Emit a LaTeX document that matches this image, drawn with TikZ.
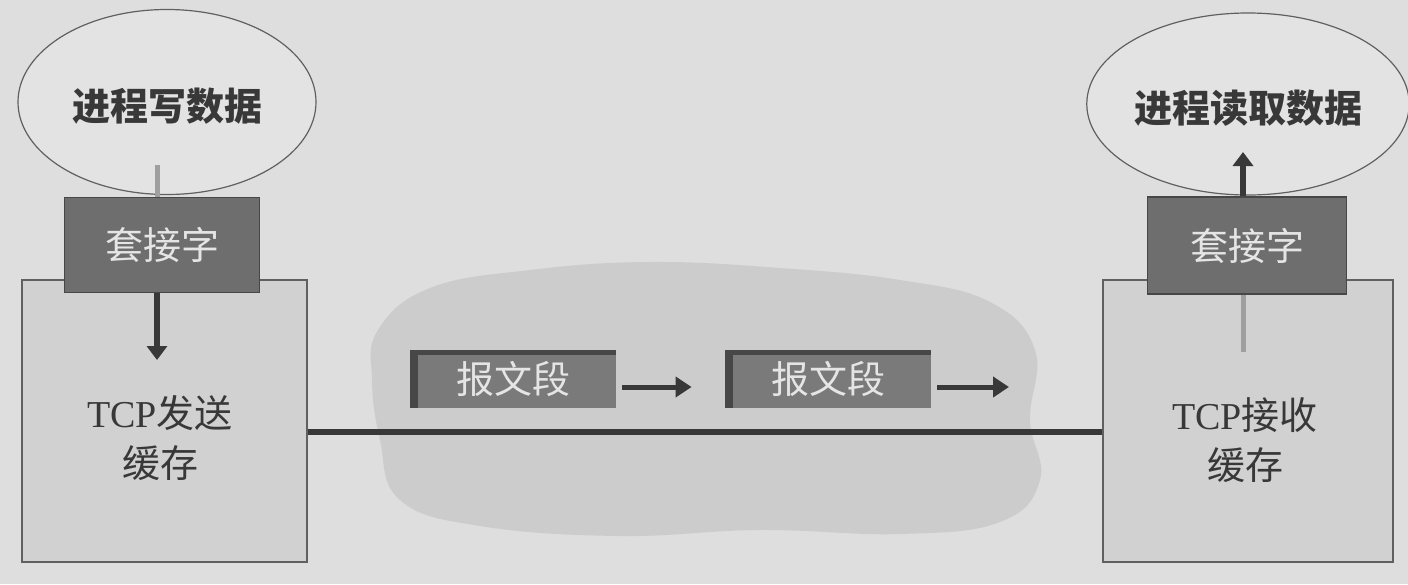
\documentclass[tikz,border=0pt]{standalone}
\usepackage{fontspec}
\setmainfont{Noto Sans CJK SC}
\newfontfamily\latinfont{Liberation Serif}
\usetikzlibrary{shapes.geometric,arrows.meta}

\definecolor{paper}{gray}{0.87}
\definecolor{cloudgray}{gray}{0.80}
\definecolor{bufgray}{gray}{0.82}
\definecolor{procgray}{gray}{0.89}
\definecolor{sockgray}{gray}{0.43}
\definecolor{seggray}{gray}{0.48}
\definecolor{segedge}{gray}{0.28}
\definecolor{inkgray}{gray}{0.22}
\definecolor{palegray}{gray}{0.90}

\tikzset{
  proc/.style={ellipse, draw=inkgray!80, line width=0.6pt, fill=procgray,
    text=inkgray, inner sep=0pt, text height=21pt, text depth=2.3pt,
    font=\fontsize{19}{22}\selectfont\bfseries},
  sockbox/.style={rectangle, draw=segedge, line width=0.8pt, fill=sockgray,
    text=palegray, minimum width=97.5pt, minimum height=47.5pt,
    font=\fontsize{19}{22}\selectfont},
  bufbox/.style={rectangle, draw=inkgray!80, line width=0.6pt, fill=bufgray,
    minimum width=142.5pt, minimum height=141pt},
  buftext/.style={align=center, text=inkgray, font=\fontsize{19}{25}\selectfont},
  segbox/.style={rectangle, fill=seggray, text=palegray, inner sep=0pt,
    minimum width=103pt, minimum height=29pt, font=\fontsize{19}{22}\selectfont,
    path picture={
      \fill[segedge] (path picture bounding box.north west)
        rectangle ([xshift=4pt]path picture bounding box.south west);
      \fill[segedge] (path picture bounding box.north west)
        rectangle ([yshift=-2.5pt]path picture bounding box.north east);
    }},
  bigarrow/.style={draw=inkgray, line width=3pt, -{Triangle[length=7pt,width=10pt]}},
  segarrow/.style={draw=inkgray, line width=2.5pt, -{Triangle[length=8pt,width=10pt]}},
  feedline/.style={draw=gray!75, line width=2.5pt},
  wireline/.style={draw=inkgray, line width=3pt},
}

\begin{document}
\begin{tikzpicture}[x=0.5pt, y=-0.5pt]
  % Background
  \fill[paper] (0,0) rectangle (1408,584);
  \useasboundingbox (0,0) rectangle (1408,584);

  % Network cloud
  \fill[cloudgray] plot[smooth cycle, tension=0.7] coordinates {
    (378,330) (430,288) (530,270) (650,262) (780,268) (900,280)
    (990,302) (1035,350) (1030,420) (1040,480) (1000,522) (900,534)
    (760,530) (620,536) (480,526) (400,500) (380,440) (372,380)};

  % Sender side
  \node[proc, minimum width=149pt, minimum height=92.5pt] (wr) at (167,102) {进程写数据};
  \node[bufbox] (sbuf) at (164.5,421) {};
  \node[buftext] (sbuftxt) at (160,438) {{\latinfont TCP}发送\\缓存};
  \node[sockbox] (ssock) at (162,245) {套接字};
  \coordinate (wrfoot) at (157,165);
  \coordinate (sbufin) at (157,360);
  \draw[feedline] (wrfoot) -- (wrfoot |- ssock.north);
  \draw[bigarrow] (sbufin |- ssock.south) -- (sbufin);

  % Receiver side
  \node[proc, minimum width=151.5pt, minimum height=91pt] (rd) at (1248,104) {进程读取数据};
  \node[bufbox, minimum width=145pt] (rbuf) at (1248,421) {};
  \node[buftext] (rbuftxt) at (1245,440) {{\latinfont TCP}接收\\缓存};
  \node[sockbox, minimum width=99.5pt, minimum height=48.5pt] (rsock) at (1247,245.5) {套接字};
  \coordinate (rdin) at (1243,152);
  \coordinate (rbufmid) at (1243,352);
  \draw[feedline] (rbufmid) -- (rbufmid |- rsock.south);
  \draw[bigarrow] (rdin |- rsock.north) -- (rdin);

  % Connection
  \coordinate (wire) at (700,432);
  \draw[wireline] (sbuf.east |- wire) -- (rbuf.west |- wire);

  % Segments
  \node[segbox] (seg1) at (513,379) {报文段};
  \node[segbox] (seg2) at (828,379) {报文段};
  \coordinate (segout) at (1009,387);
  \draw[segarrow] ([xshift=3pt,yshift=-4pt]seg1.east) -- ([xshift=-16.5pt,yshift=-4pt]seg2.west);
  \draw[segarrow] ([xshift=3pt,yshift=-4pt]seg2.east) -- (segout);
\end{tikzpicture}
\end{document}
